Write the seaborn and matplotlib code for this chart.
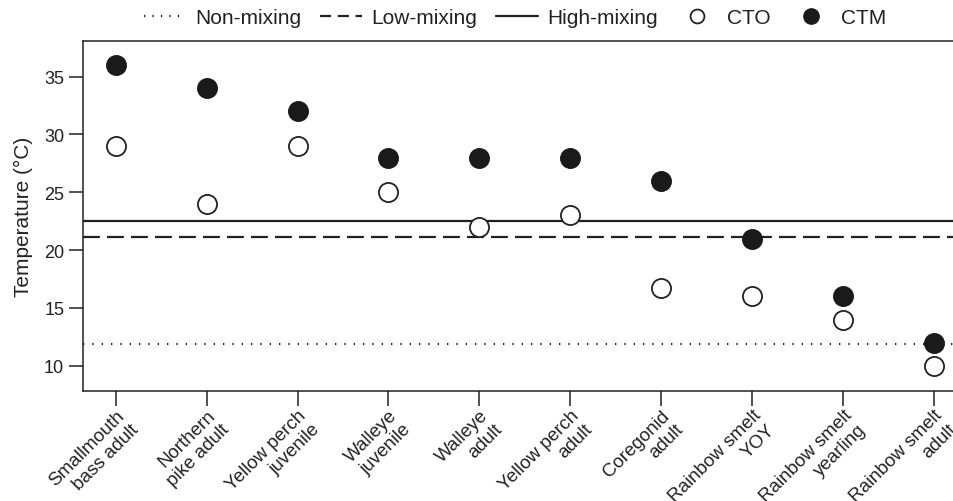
import matplotlib
matplotlib.use("Agg")
import matplotlib.pyplot as plt
from matplotlib.lines import Line2D
import seaborn as sns
import pandas as pd

# dados
especies = [
    "Smallmouth\nbass adult", "Northern\npike adult", "Yellow perch\njuvenile",
    "Walleye\njuvenile", "Walleye\nadult", "Yellow perch\nadult",
    "Coregonid\nadult", "Rainbow smelt\nYOY", "Rainbow smelt\nyearling",
    "Rainbow smelt\nadult",
]
cto = [29, 24, 29, 25, 22, 23, 16.7, 16, 14, 10]
ctm = [36, 34, 32, 28, 28, 28, 26, 21, 16, 12]

non_mixing = 11.85
low_mixing = 21.1
high_mixing = 22.55

df = pd.DataFrame({"Especie": especies, "CTO": cto, "CTM": ctm})

sns.set_style("ticks")
plt.rcParams["font.family"] = ["Liberation Sans", "DejaVu Sans"]

fig = plt.figure(figsize=(9.54, 5.02), dpi=100)
ax = fig.add_axes([0.087, 0.2185, 0.913, 0.6985])

ax.axhline(non_mixing, color="#222222", lw=1.6, ls=(0, (0.6, 3.6)))
ax.axhline(low_mixing, color="#222222", lw=1.6, ls=(0, (7.6, 3.2)))
ax.axhline(high_mixing, color="#222222", lw=1.6, ls="-")

sns.scatterplot(data=df, x="Especie", y="CTO", ax=ax, s=190,
                color="white", edgecolor="#222222", linewidth=1.3, zorder=3)
sns.scatterplot(data=df, x="Especie", y="CTM", ax=ax, s=190,
                color="#1a1a1a", edgecolor="#1a1a1a", linewidth=1.3, zorder=3)

ax.set_xlim(-0.36, 9.22)
ax.set_ylim(7.8, 38.1)
ax.set_yticks([10, 15, 20, 25, 30, 35])
ax.set_xlabel("")
ax.set_ylabel("Temperature (°C)", fontsize=15, color="#222222", labelpad=8)
ax.tick_params(axis="y", labelsize=13, length=10, width=1.1, colors="#222222")
ax.tick_params(axis="x", labelsize=13.5, length=11, width=1.1, colors="#222222",
               pad=0)
ax.set_xticks(range(len(especies)))
ax.set_xticklabels(especies, rotation=45, ha="right", rotation_mode="anchor",
                   multialignment="right")
for lado in ["left", "bottom", "top"]:
    ax.spines[lado].set_linewidth(1.1)
    ax.spines[lado].set_color("#222222")
ax.spines["right"].set_visible(False)

handles = [
    Line2D([], [], color="#222222", lw=1.6, ls=(0, (0.6, 3.2))),
    Line2D([], [], color="#222222", lw=1.6, ls=(0, (5, 3))),
    Line2D([], [], color="#222222", lw=1.6, ls="-"),
    Line2D([], [], ls="", marker="o", ms=10, mfc="white", mec="#222222", mew=1.3),
    Line2D([], [], ls="", marker="o", ms=11, mfc="#1a1a1a", mec="#1a1a1a"),
]
fig.legend(handles, ["Non-mixing", "Low-mixing", "High-mixing", "CTO", "CTM"],
           loc="center", bbox_to_anchor=(0.54, 0.963), ncol=5, frameon=False,
           fontsize=15, handlelength=2.0, handletextpad=0.45, columnspacing=0.9,
           labelcolor="#222222")

fig.savefig("out.png", dpi=100)
